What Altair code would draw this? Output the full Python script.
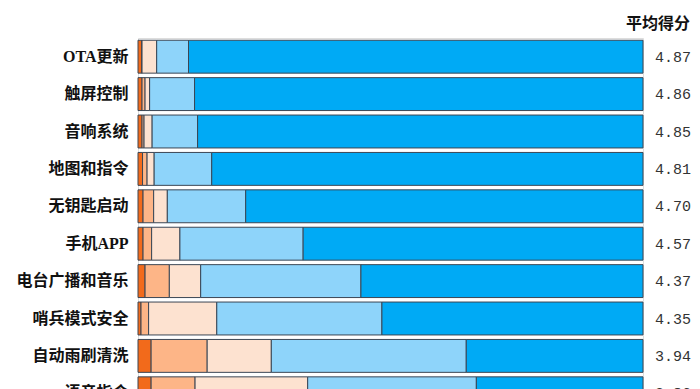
import altair as alt
import pandas as pd

features = ["OTA更新", "触屏控制", "音响系统", "地图和指令", "无钥匙启动",
            "手机APP", "电台广播和音乐", "哨兵模式安全", "自动雨刷清洗", "语音指令"]
scores = ["4.87", "4.86", "4.85", "4.81", "4.70", "4.57", "4.37", "4.35", "3.94", "3.86"]
ratings = ["1", "2", "3", "4", "5"]
share_1 = [0.8, 0.8, 0.8, 0.9, 1.0, 1.0, 1.4, 0.6, 2.6, 2.6]
share_2 = [0.0, 0.6, 0.4, 0.9, 2.1, 1.7, 4.8, 1.5, 11.1, 8.7]
share_3 = [2.9, 0.9, 1.6, 1.4, 2.7, 5.6, 6.2, 13.5, 12.7, 22.3]
share_4 = [6.3, 8.9, 9.0, 11.4, 15.5, 24.4, 31.7, 32.7, 38.6, 33.4]
share_5 = [90.0, 88.8, 88.2, 85.4, 78.6, 67.3, 55.8, 51.7, 35.0, 33.0]
colors = ["#F26A1B", "#FDB587", "#FDE2D0", "#8ED4FA", "#00AAF5"]

shares = [share_1, share_2, share_3, share_4, share_5]
rows = []
for k, r in enumerate(ratings):
    for i, f in enumerate(features):
        rows.append({"feature": f, "rating": r, "share": shares[k][i], "ord": k})
df = pd.DataFrame(rows)
score_df = pd.DataFrame({"feature": features, "score": scores})

label_font = "'Liberation Serif', 'Noto Sans CJK SC'"

y_enc = alt.Y("feature:N", sort=features,
              scale=alt.Scale(paddingInner=0.12, paddingOuter=0.06),
              axis=alt.Axis(title=None, domain=False, ticks=False,
                            labelFont=label_font, labelFontSize=16,
                            labelFontWeight="bold", labelColor="#111111",
                            labelPadding=10))

bars = alt.Chart(df).mark_bar(stroke="#3b4654", strokeWidth=1).encode(
    y=y_enc,
    x=alt.X("share:Q", stack="normalize", axis=None,
            scale=alt.Scale(domain=[0, 1], nice=False)),
    color=alt.Color("rating:N", scale=alt.Scale(domain=ratings, range=colors), legend=None),
    order=alt.Order("ord:Q"),
)

score_text = alt.Chart(score_df).mark_text(
    align="left", baseline="middle", font="Liberation Mono", fontSize=15,
    dx=12, color="#333333"
).encode(
    y=alt.Y("feature:N", sort=features),
    x=alt.datum(1),
    text="score:N",
)

chart = alt.layer(bars, score_text).properties(
    width=505, height=374,
    title=alt.TitleParams("平均得分", anchor="end", frame="group", font="Noto Sans CJK SC",
                          fontSize=16, fontWeight="bold", color="#111111", dx=47, offset=6),
    autosize=alt.AutoSizeParams(type="none"),
    padding={"left": 130, "top": 30, "right": 48, "bottom": 0},
).configure_view(stroke=None).configure(background="white")

chart.save("out.html", embed_options={"renderer": "svg", "actions": False})
